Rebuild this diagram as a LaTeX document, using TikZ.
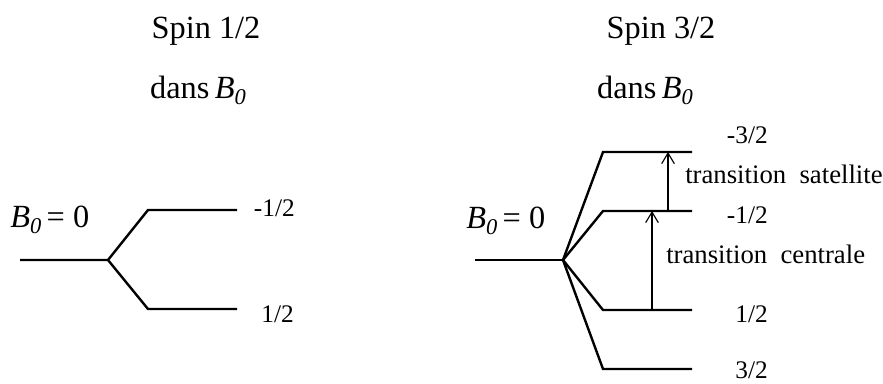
\documentclass[tikz,border=0pt]{standalone}
\usepackage{fontspec}
\setmainfont{Liberation Serif}
\usetikzlibrary{arrows.meta}
\tikzset{
  niveau/.style={line width=1.7pt},
  trans/.style={line width=0.8pt,-{Straight Barb[length=7.5pt,width=9pt]}},
  titre/.style={font=\fontsize{23}{26}\selectfont,inner sep=0pt},
  etiq/.style={font=\fontsize{18}{20}\selectfont,inner sep=0pt},
  texttrans/.style={font=\fontsize{19}{21}\selectfont,inner sep=0pt},
}
\newcommand{\Bzero}{\textit{B}\raisebox{-4.5pt}{\fontsize{16}{16}\selectfont\itshape 0}}
\begin{document}
\begin{tikzpicture}[x=0.025cm,y=-0.025cm]
\useasboundingbox (0,0) rectangle (883,383);
% spin 1/2
\node[titre,anchor=base] (titreA) at (206,38) {Spin 1/2};
\node[titre,anchor=base] (dansA) at (198,98) {dans\,\Bzero};
\node[titre,anchor=base west] (nulA) at (10,227) {\Bzero\,= 0};
\coordinate (a0) at (20,260);
\coordinate (a1) at (108,260);
\coordinate (a2) at (148,210);
\coordinate (a3) at (237,210);
\coordinate (a4) at (148,309);
\coordinate (a5) at (237,309);
\draw[niveau] (a0) -- (a1) -- (a2) -- (a3);
\draw[niveau] (a1) -- (a4) -- (a5);
\node[etiq,anchor=base east] (mA) at (295,216) {-1/2};
\node[etiq,anchor=base east] (pA) at (294,322) {1/2};
% spin 3/2
\node[titre,anchor=base] (titreB) at (661,38) {Spin 3/2};
\node[titre,anchor=base] (dansB) at (645,98) {dans\,\Bzero};
\node[titre,anchor=base west] (nulB) at (466,228) {\Bzero\,= 0};
\coordinate (b0) at (475,260);
\coordinate (b1) at (563,260);
\draw[niveau] (b0) -- (b1);
\foreach \y/\n in {152/m3,211/m1,310/p1,369/p3}
  \draw[niveau] (b1) -- (603,\y) coordinate (g\n) -- (692,\y) coordinate (d\n);
\node[etiq,anchor=base east] (lm3) at (768,143) {-3/2};
\node[etiq,anchor=base east] (lm1) at (768,223) {-1/2};
\node[etiq,anchor=base east] (lp1) at (768,322) {1/2};
\node[etiq,anchor=base east] (lp3) at (768,378) {3/2};
% transitions
\coordinate (s0) at (668,211);
\coordinate (s1) at (668,152);
\coordinate (c0) at (652,310);
\coordinate (c1) at (652,211);
\draw[trans] (s0) -- (s1);
\draw[trans] (c0) -- (c1);
\node[texttrans,anchor=base west] (sat) at (685,183) {transition\ \ satellite};
\node[texttrans,anchor=base west] (cen) at (666,263) {transition\ \ centrale};
\end{tikzpicture}
\end{document}
